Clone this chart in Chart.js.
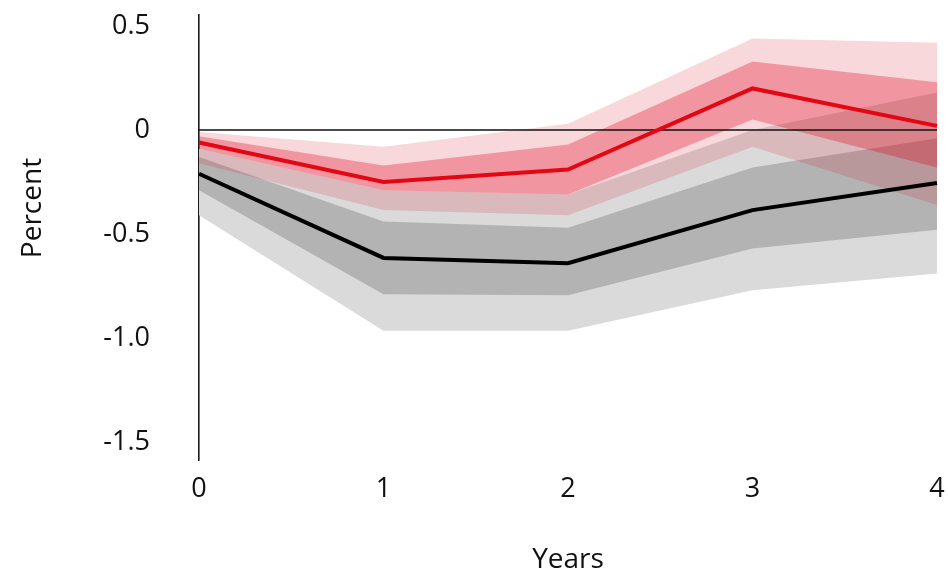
<!DOCTYPE html>
<html>
<head>
<meta charset="utf-8">
<script src="https://cdn.jsdelivr.net/npm/chart.js@4.4.1/dist/chart.umd.min.js"></script>
<style>
  html, body { margin: 0; padding: 0; background: #fff; }
  #wrap { width: 948px; height: 579px; }
</style>
</head>
<body>
<div id="wrap"><canvas id="irf"></canvas></div>
<script>
const years = ['0', '1', '2', '3', '4'];

// black response with its two grey bands
const blackMid    = [-0.21, -0.615, -0.64, -0.385, -0.255];
const greyInnerHi = [-0.13, -0.44, -0.47, -0.18, -0.04];
const greyInnerLo = [-0.29, -0.79, -0.795, -0.57, -0.48];
const greyOuterHi = [-0.09, -0.29, -0.31, 0.0, 0.18];
const greyOuterLo = [-0.41, -0.965, -0.965, -0.77, -0.69];

// red response with its two red bands
const redMid     = [-0.06, -0.25, -0.19, 0.20, 0.02];
const redInnerHi = [-0.03, -0.17, -0.07, 0.33, 0.23];
const redInnerLo = [-0.09, -0.29, -0.31, 0.05, -0.18];
const redOuterHi = [-0.01, -0.08, 0.03, 0.44, 0.42];
const redOuterLo = [-0.16, -0.385, -0.41, -0.08, -0.36];

const zeroLine = [0, 0, 0, 0, 0];

const yTicks = [0.5, 0, -0.5, -1.0, -1.5];
const yTickLabels = ['0.5', '0', '-0.5', '-1.0', '-1.5'];

const FONT = '"Open Sans", "Noto Sans", sans-serif';
const INK = '#111';

var datasets = [];

// a band is two invisible edges, the upper one filled down to the lower one
function band(hi, lo, colour, order) {
    var hiIdx = datasets.length;
    datasets.push({
        data: hi, borderWidth: 0, pointRadius: 0, tension: 0,
        backgroundColor: colour, fill: { target: hiIdx + 1 }, order: order
    });
    datasets.push({
        data: lo, borderWidth: 0, pointRadius: 0, tension: 0,
        fill: false, order: order
    });
}

function line(values, colour, width, order) {
    datasets.push({
        data: values, borderColor: colour, borderWidth: width,
        pointRadius: 0, tension: 0, fill: false, order: order, clip: 4
    });
}

// lower order is painted on top
line(redMid, '#e30613', 4, 0);
line(blackMid, '#000000', 4, 1);
line(zeroLine, '#111111', 1.5, 2);
band(redInnerHi, redInnerLo, 'rgba(226, 0, 26, 0.30)', 3);
band(redOuterHi, redOuterLo, 'rgba(214, 26, 37, 0.17)', 4);
band(greyInnerHi, greyInnerLo, '#b3b3b3', 5);
band(greyOuterHi, greyOuterLo, '#dadada', 6);

// rotated y axis caption, sits a bit above the middle of the axis
const percentTitle = {
    id: 'percentTitle',
    afterDraw(chart) {
        const ctx = chart.ctx;
        ctx.save();
        ctx.translate(33, 208);
        ctx.rotate(-Math.PI / 2);
        ctx.font = '28px ' + FONT;
        ctx.fillStyle = INK;
        ctx.textAlign = 'center';
        ctx.textBaseline = 'middle';
        ctx.fillText('Percent', 0, 0);
        ctx.restore();
    }
};

var ctx = document.getElementById('irf').getContext('2d');
var chart = new Chart(ctx, {
    type: 'line',
    data: { labels: years, datasets: datasets },
    plugins: [percentTitle],
    options: {
        responsive: true,
        maintainAspectRatio: false,
        animation: false,
        events: [],
        layout: { padding: { top: 15, right: 11, bottom: 0, left: 0 } },
        plugins: {
            legend: { display: false },
            tooltip: { enabled: false }
        },
        scales: {
            x: {
                offset: false,
                // hidden tick marks only push the labels down
                grid: { display: false, drawTicks: true, tickLength: 14 },
                border: { display: false },
                ticks: {
                    color: INK, padding: 0, maxRotation: 0, autoSkip: false,
                    font: { family: FONT, size: 27, lineHeight: 1.1 }
                },
                title: {
                    display: true, text: 'Years', color: INK,
                    font: { family: FONT, size: 28 },
                    padding: { top: 0, bottom: 2 }
                },
                afterFit(scale) { scale.height = 119; }
            },
            y: {
                min: -1.5865,
                max: 0.553,
                grid: { display: false, drawTicks: true, tickLength: 49 },
                border: { display: true, color: '#1a1a1a', width: 1.6 },
                ticks: {
                    color: INK, padding: 0,
                    font: { family: FONT, size: 27, lineHeight: 1.1 },
                    callback: function (v) { return yTickLabels[yTicks.indexOf(v)]; }
                },
                afterBuildTicks(scale) {
                    scale.ticks = yTicks.slice().reverse().map(v => ({ value: v }));
                },
                afterFit(scale) { scale.width = 199; }
            }
        }
    }
});
</script>
</body>
</html>
